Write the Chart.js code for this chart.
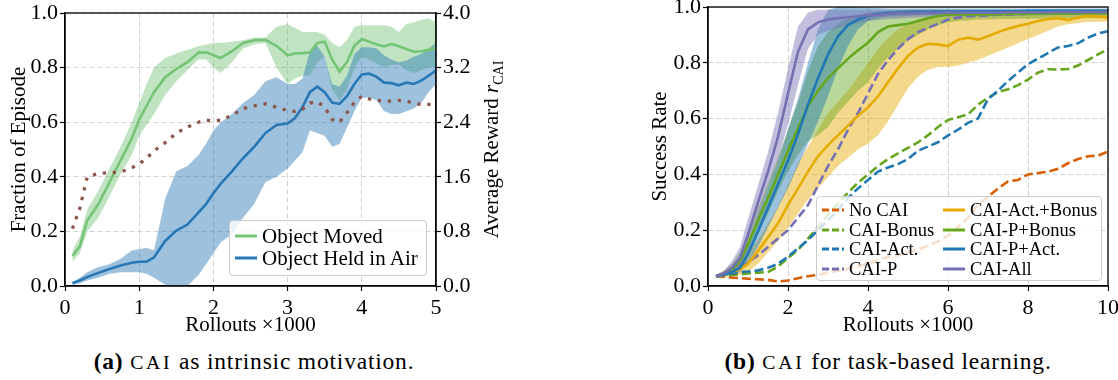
<!DOCTYPE html>
<html>
<head>
<meta charset="utf-8">
<script src="https://cdn.jsdelivr.net/npm/chart.js@4.4.1/dist/chart.umd.min.js"></script>
<style>
  body { margin: 0; background: #fff; width: 1118px; height: 380px; overflow: hidden; position: relative; font-family: "Liberation Serif", serif; color: #000; }
  canvas { position: absolute; }
  .legend { position: absolute; background: rgba(255,255,255,0.8); border: 1px solid #cccccc; border-radius: 4px; box-sizing: border-box; }
  .item { position: absolute; white-space: nowrap; height: 20px; line-height: 20px; }
  .item svg { position: absolute; left: 0; top: 8px; }
  .item span { position: absolute; top: 0; }
  .caption { position: absolute; font-size: 23.5px; line-height: 24px; letter-spacing: 0.8px; text-align: center; white-space: nowrap; }
  .sc { font-size: 0.84em; letter-spacing: 0.14em; }
</style>
</head>
<body>
<canvas id="left" width="520" height="350" style="left:0;top:-10px"></canvas>
<canvas id="right" width="570" height="350" style="left:560px;top:-10px"></canvas>
<div id="legLeft" class="legend" style="left:229px;top:220px;width:198px;height:56px;font-size:21px"></div>
<div id="legRight" class="legend" style="left:816px;top:196px;width:286px;height:85px;font-size:18.5px"></div>
<div class="caption" style="left:54px;top:349px;width:400px"><b>(a)</b> <span class="sc">CAI</span> as intrinsic motivation.</div>
<div class="caption" style="left:688px;top:349px;width:400px"><b>(b)</b> <span class="sc">CAI</span> for task-based learning.</div>
<script>
// ---- left panel: CAI as intrinsic motivation ----
const LEFT_X = [0.1, 0.2, 0.3, 0.45, 0.6, 0.75, 0.9,
  1.0, 1.1, 1.2, 1.35, 1.5, 1.65, 1.8, 1.9,
  2.0, 2.1, 2.25, 2.4, 2.55, 2.7, 2.85,
  3.0, 3.1, 3.2, 3.3, 3.4, 3.5, 3.6, 3.7, 3.8, 3.9,
  4.0, 4.1, 4.2, 4.3, 4.4, 4.5, 4.6, 4.7, 4.8, 4.9, 5.0];

const MOVED = [0.11, 0.145, 0.24, 0.30, 0.38, 0.46, 0.54,
  0.61, 0.66, 0.71, 0.765, 0.795, 0.82, 0.855, 0.856,
  0.845, 0.835, 0.86, 0.89, 0.90, 0.902, 0.88,
  0.845, 0.852, 0.853, 0.855, 0.89, 0.895, 0.83, 0.785, 0.82, 0.88,
  0.905, 0.895, 0.885, 0.878, 0.886, 0.878, 0.868, 0.858, 0.86, 0.865, 0.872];
const MOVED_HI = [0.13, 0.18, 0.28, 0.35, 0.43, 0.51, 0.60,
  0.67, 0.74, 0.80, 0.835, 0.852, 0.865, 0.878, 0.885,
  0.89, 0.89, 0.895, 0.90, 0.91, 0.91, 0.95,
  0.96, 0.945, 0.93, 0.93, 0.93, 0.92, 0.89, 0.875, 0.90, 0.95,
  0.955, 0.955, 0.955, 0.955, 0.95, 0.93, 0.96, 0.965, 0.975, 0.98, 0.965];
const MOVED_LO = [0.09, 0.12, 0.20, 0.25, 0.33, 0.41, 0.48,
  0.55, 0.59, 0.63, 0.70, 0.75, 0.79, 0.83, 0.83,
  0.80, 0.78, 0.82, 0.87, 0.885, 0.89, 0.80,
  0.74, 0.76, 0.77, 0.77, 0.82, 0.84, 0.72, 0.68, 0.72, 0.80,
  0.84, 0.83, 0.815, 0.80, 0.81, 0.81, 0.79, 0.78, 0.79, 0.80, 0.80];

const HELD = [0.01, 0.02, 0.033, 0.048, 0.062, 0.075, 0.085,
  0.089, 0.089, 0.105, 0.165, 0.203, 0.225, 0.27, 0.30,
  0.34, 0.375, 0.42, 0.468, 0.51, 0.56, 0.59,
  0.595, 0.615, 0.655, 0.71, 0.73, 0.71, 0.672, 0.667, 0.695, 0.74,
  0.775, 0.778, 0.766, 0.745, 0.743, 0.735, 0.745, 0.74, 0.752, 0.77, 0.79];
const HELD_HI = [0.015, 0.03, 0.05, 0.07, 0.08, 0.10, 0.13,
  0.135, 0.14, 0.13, 0.32, 0.42, 0.44, 0.48, 0.52,
  0.57, 0.60, 0.63, 0.67, 0.70, 0.75, 0.765,
  0.74, 0.74, 0.76, 0.86, 0.88, 0.84, 0.74, 0.73, 0.77, 0.85,
  0.875, 0.875, 0.87, 0.845, 0.83, 0.82, 0.825, 0.84, 0.85, 0.87, 0.89];
const HELD_LO = [0.005, 0.01, 0.02, 0.03, 0.045, 0.05, 0.05,
  0.05, 0.045, 0.03, 0.005, -0.02, 0.0, 0.04, 0.08,
  0.12, 0.16, 0.19, 0.25, 0.30, 0.38, 0.40,
  0.43, 0.46, 0.49, 0.57, 0.56, 0.55, 0.51, 0.52, 0.58, 0.64,
  0.69, 0.69, 0.68, 0.64, 0.63, 0.63, 0.64, 0.65, 0.67, 0.71, 0.74];

// average reward r_CAI (right axis)
const REWARD = [0.84, 1.14, 1.6, 1.65, 1.66, 1.67, 1.73,
  1.79, 1.87, 1.98, 2.1, 2.24, 2.33, 2.4, 2.43,
  2.42, 2.43, 2.5, 2.6, 2.64, 2.67, 2.62,
  2.57, 2.56, 2.59, 2.68, 2.7, 2.62, 2.44, 2.4, 2.54, 2.69,
  2.78, 2.74, 2.72, 2.71, 2.71, 2.72, 2.71, 2.68, 2.66, 2.66, 2.66];

const LEFT_X_TICKS = [0, 1, 2, 3, 4, 5];
const FRACTION_TICKS = [0, 0.2, 0.4, 0.6, 0.8, 1.0];
const REWARD_TICKS = [0, 0.8, 1.6, 2.4, 3.2, 4.0];
const LEFT_LABELS = ['Object Moved', 'Object Held in Air'];
const REWARD_TITLE = ['Average Reward ', 'r', 'CAI'];

// ---- right panel: CAI for task-based learning ----
const RIGHT_X = [0.2, 0.4, 0.6, 0.8, 1.0,
  1.25, 1.5, 1.75, 2.0, 2.25, 2.5, 2.75, 3.0, 3.25, 3.5, 3.75, 4.0,
  4.25, 4.5, 4.75, 5.0, 5.25, 5.5, 5.75, 6.0, 6.25, 6.5, 6.75, 7.0,
  7.25, 7.5, 7.75, 8.0, 8.25, 8.5, 8.75, 9.0, 9.25, 9.5, 9.75, 10.0];

const NO_CAI = [0.035, 0.033, 0.03, 0.028, 0.026,
  0.024, 0.022, 0.016, 0.02, 0.028, 0.035, 0.04, 0.048, 0.055, 0.062, 0.07, 0.08,
  0.092, 0.105, 0.11, 0.12, 0.13, 0.145, 0.16, 0.18, 0.21, 0.245, 0.29, 0.32,
  0.35, 0.375, 0.38, 0.40, 0.405, 0.41, 0.42, 0.44, 0.455, 0.465, 0.467, 0.482];
const CAI_BONUS = [0.035, 0.038, 0.04, 0.042, 0.045,
  0.048, 0.05, 0.07, 0.10, 0.13, 0.17, 0.21, 0.255, 0.295, 0.335, 0.37, 0.40,
  0.43, 0.455, 0.475, 0.495, 0.515, 0.54, 0.57, 0.595, 0.605, 0.615, 0.65, 0.675,
  0.695, 0.705, 0.72, 0.74, 0.765, 0.777, 0.776, 0.778, 0.79, 0.81, 0.83, 0.85];
const CAI_ACT = [0.035, 0.04, 0.045, 0.05, 0.052,
  0.056, 0.065, 0.08, 0.105, 0.135, 0.165, 0.20, 0.235, 0.275, 0.315, 0.35, 0.38,
  0.41, 0.425, 0.437, 0.455, 0.485, 0.50, 0.515, 0.54, 0.56, 0.585, 0.60, 0.67,
  0.70, 0.735, 0.765, 0.795, 0.815, 0.835, 0.855, 0.86, 0.87, 0.89, 0.905, 0.913];
const CAI_P = [0.035, 0.04, 0.05, 0.065, 0.085,
  0.11, 0.14, 0.17, 0.20, 0.245, 0.29, 0.36, 0.43, 0.49, 0.56, 0.62, 0.69,
  0.76, 0.81, 0.85, 0.885, 0.91, 0.925, 0.94, 0.955, 0.962, 0.966, 0.968, 0.97,
  0.972, 0.973, 0.974, 0.975, 0.976, 0.977, 0.977, 0.978, 0.978, 0.979, 0.979, 0.98];

const ACT_BONUS = [0.035, 0.04, 0.05, 0.06, 0.08,
  0.125, 0.175, 0.225, 0.29, 0.35, 0.41, 0.465, 0.505, 0.54, 0.575, 0.61, 0.64,
  0.68, 0.73, 0.78, 0.825, 0.855, 0.868, 0.866, 0.86, 0.883, 0.89, 0.883, 0.895,
  0.91, 0.922, 0.932, 0.94, 0.95, 0.957, 0.96, 0.953, 0.962, 0.968, 0.966, 0.962];
const ACT_BONUS_HI = [0.04, 0.05, 0.07, 0.09, 0.115,
  0.165, 0.225, 0.285, 0.36, 0.44, 0.50, 0.56, 0.62, 0.66, 0.70, 0.75, 0.80,
  0.85, 0.89, 0.92, 0.94, 0.955, 0.962, 0.965, 0.965, 0.97, 0.975, 0.975, 0.978,
  0.98, 0.982, 0.984, 0.985, 0.986, 0.987, 0.988, 0.988, 0.989, 0.99, 0.99, 0.99];
const ACT_BONUS_LO = [0.03, 0.03, 0.035, 0.04, 0.05,
  0.08, 0.12, 0.16, 0.21, 0.26, 0.31, 0.35, 0.39, 0.43, 0.46, 0.49, 0.51,
  0.54, 0.59, 0.65, 0.71, 0.75, 0.775, 0.785, 0.785, 0.79, 0.80, 0.81, 0.825,
  0.84, 0.855, 0.87, 0.885, 0.90, 0.915, 0.93, 0.938, 0.943, 0.946, 0.947, 0.947];

const P_BONUS = [0.035, 0.045, 0.06, 0.09, 0.15,
  0.235, 0.315, 0.40, 0.485, 0.565, 0.645, 0.70, 0.745, 0.78, 0.815, 0.845, 0.872,
  0.91, 0.93, 0.935, 0.94, 0.95, 0.96, 0.968, 0.972, 0.973, 0.973, 0.973, 0.973,
  0.974, 0.975, 0.976, 0.976, 0.976, 0.977, 0.977, 0.977, 0.978, 0.978, 0.978, 0.978];
const P_BONUS_HI = [0.04, 0.055, 0.08, 0.12, 0.19,
  0.28, 0.37, 0.46, 0.56, 0.66, 0.77, 0.86, 0.91, 0.94, 0.96, 0.97, 0.98,
  0.985, 0.987, 0.988, 0.99, 0.99, 0.99, 0.99, 0.99, 0.99, 0.99, 0.99, 0.99,
  0.99, 0.99, 0.99, 0.99, 0.99, 0.99, 0.99, 0.99, 0.99, 0.99, 0.99, 0.99];
const P_BONUS_LO = [0.03, 0.035, 0.045, 0.065, 0.11,
  0.19, 0.26, 0.34, 0.41, 0.47, 0.52, 0.54, 0.57, 0.62, 0.66, 0.70, 0.73,
  0.78, 0.82, 0.85, 0.88, 0.90, 0.92, 0.935, 0.945, 0.95, 0.952, 0.955, 0.955,
  0.956, 0.957, 0.958, 0.958, 0.958, 0.959, 0.96, 0.96, 0.96, 0.96, 0.96, 0.96];

const P_ACT = [0.035, 0.04, 0.05, 0.065, 0.115,
  0.195, 0.28, 0.365, 0.45, 0.545, 0.65, 0.745, 0.83, 0.895, 0.935, 0.955, 0.968,
  0.975, 0.978, 0.98, 0.982, 0.983, 0.983, 0.984, 0.984, 0.984, 0.985, 0.985, 0.985,
  0.985, 0.985, 0.985, 0.986, 0.986, 0.986, 0.986, 0.986, 0.986, 0.986, 0.986, 0.986];
const P_ACT_HI = [0.04, 0.05, 0.06, 0.085, 0.15,
  0.25, 0.35, 0.45, 0.56, 0.67, 0.80, 0.92, 0.99, 1.0, 1.0, 1.0, 0.997,
  0.996, 0.995, 0.995, 0.995, 0.995, 0.995, 0.995, 0.995, 0.995, 0.995, 0.995, 0.995,
  0.995, 0.995, 0.995, 0.995, 0.995, 0.995, 0.995, 0.995, 0.995, 0.995, 0.995, 0.995];
const P_ACT_LO = [0.03, 0.035, 0.04, 0.05, 0.08,
  0.14, 0.21, 0.28, 0.35, 0.43, 0.51, 0.59, 0.68, 0.78, 0.86, 0.92, 0.95,
  0.96, 0.965, 0.967, 0.968, 0.97, 0.97, 0.971, 0.972, 0.972, 0.973, 0.974, 0.974,
  0.975, 0.975, 0.975, 0.975, 0.976, 0.976, 0.976, 0.976, 0.976, 0.976, 0.977, 0.977];

const ALL = [0.035, 0.045, 0.065, 0.10, 0.185,
  0.30, 0.41, 0.535, 0.69, 0.84, 0.92, 0.945, 0.955, 0.96, 0.963, 0.967, 0.97,
  0.972, 0.975, 0.977, 0.978, 0.978, 0.979, 0.979, 0.98, 0.98, 0.98, 0.98, 0.98,
  0.98, 0.981, 0.981, 0.981, 0.981, 0.981, 0.982, 0.982, 0.982, 0.982, 0.982, 0.982];
const ALL_HI = [0.04, 0.055, 0.09, 0.14, 0.24,
  0.36, 0.48, 0.62, 0.78, 0.93, 0.98, 0.99, 0.99, 0.99, 0.99, 0.99, 0.99,
  0.99, 0.99, 0.99, 0.99, 0.99, 0.99, 0.99, 0.99, 0.99, 0.99, 0.99, 0.99,
  0.99, 0.99, 0.99, 0.99, 0.99, 0.99, 0.99, 0.99, 0.99, 0.99, 0.99, 0.99];
const ALL_LO = [0.03, 0.035, 0.045, 0.07, 0.13,
  0.24, 0.35, 0.45, 0.58, 0.72, 0.85, 0.90, 0.915, 0.925, 0.935, 0.942, 0.95,
  0.953, 0.956, 0.958, 0.96, 0.962, 0.963, 0.964, 0.965, 0.965, 0.966, 0.967, 0.968,
  0.968, 0.969, 0.969, 0.97, 0.97, 0.97, 0.971, 0.971, 0.972, 0.972, 0.972, 0.972];

const RIGHT_X_TICKS = [0, 2, 4, 6, 8, 10];
const SUCCESS_TICKS = [0, 0.2, 0.4, 0.6, 0.8, 1.0];
const RIGHT_LABELS = ['No CAI', 'CAI-Bonus', 'CAI-Act.', 'CAI-P',
  'CAI-Act.+Bonus', 'CAI-P+Bonus', 'CAI-P+Act.', 'CAI-All'];

// ---- helpers ----
const FONT = '"Liberation Serif", serif';
Chart.defaults.font.family = FONT;
Chart.defaults.font.size = 21;
Chart.defaults.color = '#000';

const pts = (xs, ys) => xs.map((x, i) => ({ x: x, y: ys[i] }));

function rgba(hex, a) {
  const n = parseInt(hex.slice(1), 16);
  return 'rgba(' + (n >> 16) + ',' + ((n >> 8) & 255) + ',' + (n & 255) + ',' + a + ')';
}

function axis(tickValues, digits, pad, extra) {
  return Object.assign({
    type: 'linear',
    min: tickValues[0],
    max: tickValues[tickValues.length - 1],
    afterBuildTicks: a => { a.ticks = tickValues.map(v => ({ value: v })); },
    grid: { color: '#d2d2d2', lineWidth: 1, tickLength: 5, tickColor: '#000', tickWidth: 1.2 },
    border: { color: '#000', width: 1.3, dash: [5, 3] },
    ticks: { padding: pad, autoSkip: false, maxRotation: 0, font: { size: 22 }, callback: v => v.toFixed(digits) }
  }, extra);
}

const frame = {
  id: 'frame',
  afterDatasetsDraw(chart) {
    const { ctx, chartArea: a } = chart;
    ctx.save();
    ctx.strokeStyle = '#000';
    ctx.lineWidth = 1.3;
    ctx.strokeRect(a.left, a.top, a.right - a.left, a.bottom - a.top);
    ctx.restore();
  }
};

// right-hand axis title with italic r and subscript
const rewardTitle = {
  id: 'rewardTitle',
  afterDraw(chart) {
    const s = chart.scales.y2;
    const a = chart.chartArea;
    const ctx = chart.ctx;
    const fonts = ['21px ' + FONT, 'italic 21px ' + FONT, '14px ' + FONT];
    const shift = [0, 0, 5];
    let total = 0;
    const widths = REWARD_TITLE.map((t, i) => { ctx.font = fonts[i]; const w = ctx.measureText(t).width; total += w; return w; });
    ctx.save();
    ctx.translate(s.right - 22, (a.top + a.bottom) / 2);
    ctx.rotate(-Math.PI / 2);
    ctx.fillStyle = '#000';
    ctx.textBaseline = 'alphabetic';
    let x = -total / 2;
    REWARD_TITLE.forEach((t, i) => {
      ctx.font = fonts[i];
      ctx.fillText(t, x, shift[i]);
      x += widths[i];
    });
    ctx.restore();
  }
};

// ---- left chart ----
const GREEN_L = '#74c476', BLUE_L = '#2878b5', BROWN = '#8c564b';
const band = (xs, ys, color, a, fill, order) => ({
  data: pts(xs, ys), borderWidth: 0, pointRadius: 0, backgroundColor: rgba(color, a),
  fill: fill, order: order, tension: 0
});
const line = (xs, ys, color, dash, order, width, yAxisID) => ({
  data: pts(xs, ys), borderColor: color, borderWidth: width, borderDash: dash, pointRadius: 0,
  fill: false, order: order, tension: 0, yAxisID: yAxisID || 'y', borderCapStyle: 'butt'
});

new Chart(document.getElementById('left'), {
  type: 'line',
  data: {
    datasets: [
      band(LEFT_X, MOVED_LO, GREEN_L, 0.45, false, 21),
      band(LEFT_X, MOVED_HI, GREEN_L, 0.45, '-1', 21),
      band(LEFT_X, HELD_LO, BLUE_L, 0.45, false, 20),
      band(LEFT_X, HELD_HI, BLUE_L, 0.45, '-1', 20),
      line(LEFT_X, MOVED, GREEN_L, [], 3, 2.6),
      line(LEFT_X, HELD, BLUE_L, [], 2, 2.6),
      line(LEFT_X, REWARD, BROWN, [3.3, 6.7], 1, 3.3, 'y2')
    ]
  },
  options: {
    responsive: false,
    animation: false,
    layout: { padding: { top: 23, left: 0, right: 0, bottom: 0 } },
    plugins: { legend: { display: false }, tooltip: { enabled: false } },
    scales: {
      x: axis(LEFT_X_TICKS, 0, 4, {
        afterFit: s => { s.height = 54; },
        title: { display: true, text: 'Rollouts \u00d71000', padding: { top: 0, bottom: 2 } }
      }),
      y: axis(FRACTION_TICKS, 1, 2, {
        afterFit: s => { s.width = 65; },
        title: { display: true, text: 'Fraction of Episode', padding: { top: 7, bottom: 0 } }
      }),
      y2: axis(REWARD_TICKS, 1, 2, {
        position: 'right',
        afterFit: s => { s.width = 84; },
        grid: { drawOnChartArea: false, tickLength: 5, tickColor: '#000', tickWidth: 1.2 }
      })
    }
  },
  plugins: [frame, rewardTitle]
});

// ---- right chart ----
const ORANGE = '#d95f02', GREEN = '#66a61e', BLUE = '#1f78b4', PURPLE = '#7570b3', YELLOW = '#e6ab02';
const DASH = [9, 4];
const RIGHT_SERIES = [
  { mean: NO_CAI, color: ORANGE, dash: DASH },
  { mean: CAI_BONUS, color: GREEN, dash: DASH },
  { mean: CAI_ACT, color: BLUE, dash: DASH },
  { mean: CAI_P, color: PURPLE, dash: DASH },
  { mean: ACT_BONUS, lo: ACT_BONUS_LO, hi: ACT_BONUS_HI, color: YELLOW, dash: [] },
  { mean: P_BONUS, lo: P_BONUS_LO, hi: P_BONUS_HI, color: GREEN, dash: [] },
  { mean: P_ACT, lo: P_ACT_LO, hi: P_ACT_HI, color: BLUE, dash: [] },
  { mean: ALL, lo: ALL_LO, hi: ALL_HI, color: PURPLE, dash: [] }
];

const rightSets = [];
RIGHT_SERIES.forEach((s, k) => {
  if (s.lo) {
    rightSets.push(band(RIGHT_X, s.lo, s.color, 0.45, false, 30 - k));
    rightSets.push(band(RIGHT_X, s.hi, s.color, 0.45, '-1', 30 - k));
  }
});
RIGHT_SERIES.forEach((s, k) => {
  rightSets.push(line(RIGHT_X, s.mean, s.color, s.dash, 10 - k, 2.6));
});

new Chart(document.getElementById('right'), {
  type: 'line',
  data: { datasets: rightSets },
  options: {
    responsive: false,
    animation: false,
    layout: { padding: { top: 17, left: 0, right: 22, bottom: 0 } },
    plugins: { legend: { display: false }, tooltip: { enabled: false } },
    scales: {
      x: axis(RIGHT_X_TICKS, 0, 4, {
        afterFit: s => { s.height = 54; },
        title: { display: true, text: 'Rollouts \u00d71000', padding: { top: 0, bottom: 2 } }
      }),
      y: axis(SUCCESS_TICKS, 1, 2, {
        afterFit: s => { s.width = 148; },
        title: { display: true, text: 'Success Rate', padding: { top: 88, bottom: 0 } }
      })
    }
  },
  plugins: [frame]
});

// ---- legends (html) ----
function legendItem(parent, label, color, dash, left, top, textLeft) {
  const d = document.createElement('div');
  d.className = 'item';
  d.style.left = left + 'px';
  d.style.top = top + 'px';
  d.innerHTML = '<svg width="22" height="4"><line x1="0" y1="2" x2="22" y2="2" stroke="' + color +
    '" stroke-width="3" stroke-dasharray="' + (dash.length ? dash.join(' ') : 'none') + '"/></svg>' +
    '<span style="left:' + textLeft + 'px">' + label + '</span>';
  parent.appendChild(d);
}
const legL = document.getElementById('legLeft');
legendItem(legL, LEFT_LABELS[0], GREEN_L, [], 5, 5, 27);
legendItem(legL, LEFT_LABELS[1], BLUE_L, [], 5, 27, 27);

const legR = document.getElementById('legRight');
const rowTops = [3, 22.5, 42, 61.5];
RIGHT_SERIES.forEach((s, k) => {
  const col = k < 4 ? 5 : 126;
  legendItem(legR, RIGHT_LABELS[k], s.color, s.dash.length ? [7, 3] : [], col, rowTops[k % 4], 27);
});
</script>
</body>
</html>
